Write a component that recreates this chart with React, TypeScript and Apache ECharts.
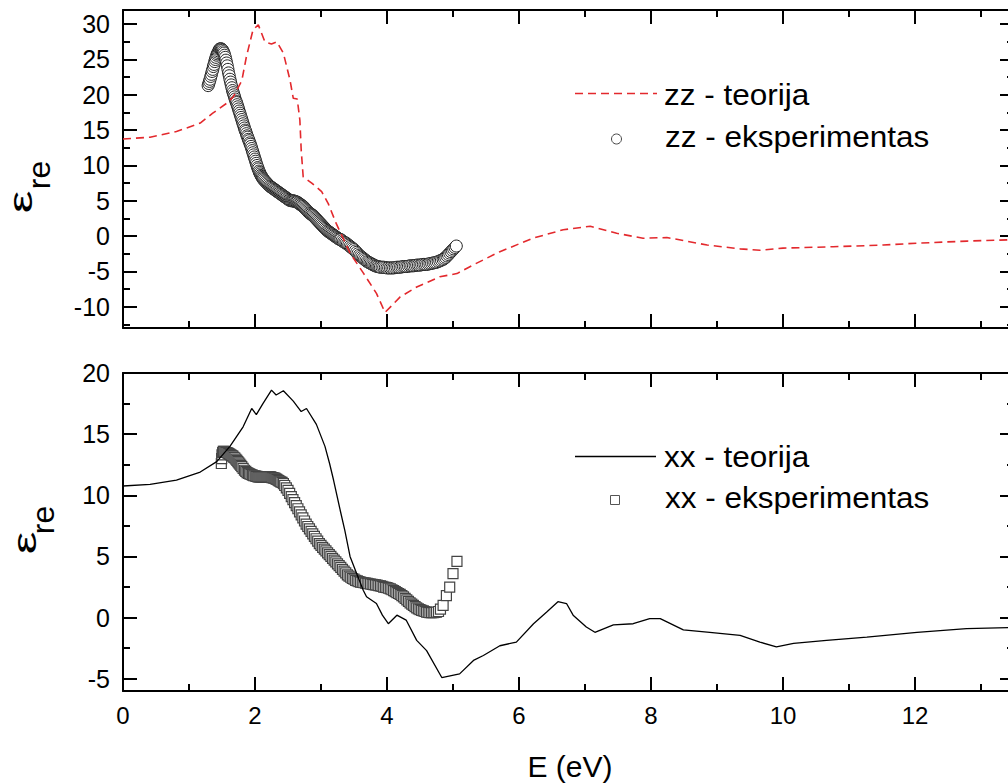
import React, { useEffect, useRef } from "react";
import * as echarts from "echarts";

// ---- data ----
const xTickLabels = [0, 2, 4, 6, 8, 10, 12];
const zzTicks = [-10, -5, 0, 5, 10, 15, 20, 25, 30];
const xxTicks = [-5, 0, 5, 10, 15, 20];

const zzTheory: [number, number][] = [
  [0, 13.75], [0.41, 14.0], [0.81, 14.8], [1.17, 16.0], [1.36, 17.4], [1.57, 18.8],
  [1.67, 19.7], [1.8, 22.0], [1.87, 25.4], [1.97, 29.2], [2.05, 29.9], [2.15, 27.5],
  [2.25, 27.2], [2.33, 27.5], [2.43, 25.9], [2.53, 22.1], [2.58, 19.5], [2.64, 19.4],
  [2.68, 16.4], [2.7, 12.2], [2.73, 8.4], [2.86, 7.5], [3.01, 6.3], [3.11, 4.6],
  [3.23, 1.8], [3.44, -2.4], [3.64, -5.2], [3.84, -8.1], [3.97, -10.8], [4.2, -8.6],
  [4.45, -7.2], [4.8, -5.75], [5.06, -5.3], [5.3, -4.1], [5.71, -2.2], [6.21, -0.3],
  [6.67, 0.9], [7.08, 1.4], [7.48, 0.4], [7.88, -0.3], [8.24, -0.2], [8.39, -0.45],
  [8.85, -1.26], [9.35, -1.8], [9.65, -2.0], [10.0, -1.7], [10.76, -1.5], [11.52, -1.26],
  [12.03, -1.0], [12.79, -0.7], [13.5, -0.5],
];

const zzExperiment: [number, number][] = [
  [1.29, 21.3], [1.3, 21.6], [1.31, 21.9], [1.32, 22.2], [1.33, 22.6], [1.34, 22.9],
  [1.35, 23.3], [1.36, 23.6], [1.37, 24.0], [1.38, 24.3], [1.39, 24.7], [1.4, 25.0],
  [1.41, 25.3], [1.42, 25.6], [1.43, 25.8], [1.44, 26.0], [1.45, 26.2], [1.46, 26.4],
  [1.47, 26.5], [1.48, 26.5], [1.49, 26.5], [1.5, 26.4], [1.51, 26.3], [1.52, 26.1],
  [1.53, 25.9], [1.54, 25.6], [1.55, 25.3], [1.56, 24.9], [1.57, 24.5], [1.58, 24.1],
  [1.59, 23.6], [1.6, 23.1], [1.61, 22.7], [1.62, 22.2], [1.63, 21.8], [1.64, 21.4],
  [1.65, 21.0], [1.66, 20.6], [1.67, 20.3], [1.68, 20.0], [1.69, 19.7], [1.7, 19.4],
  [1.71, 19.1], [1.72, 18.9], [1.73, 18.6], [1.74, 18.3], [1.75, 18.0], [1.76, 17.7],
  [1.77, 17.4], [1.78, 17.1], [1.79, 16.8], [1.8, 16.5], [1.81, 16.2], [1.82, 15.9],
  [1.83, 15.6], [1.84, 15.3], [1.85, 15.0], [1.86, 14.8], [1.87, 14.5], [1.88, 14.2],
  [1.89, 14.0], [1.9, 13.7], [1.91, 13.5], [1.92, 13.2], [1.93, 13.0], [1.94, 12.7],
  [1.95, 12.4], [1.96, 12.1], [1.97, 11.8], [1.98, 11.5], [1.99, 11.2], [2.0, 10.9],
  [2.01, 10.6], [2.02, 10.3], [2.03, 10.0], [2.04, 9.7], [2.05, 9.5], [2.06, 9.2],
  [2.07, 9.0], [2.08, 8.8], [2.09, 8.6], [2.1, 8.45], [2.11, 8.3], [2.12, 8.15],
  [2.13, 8.0], [2.145, 7.85], [2.16, 7.7], [2.175, 7.55], [2.19, 7.4], [2.205, 7.25],
  [2.22, 7.1], [2.235, 7.0], [2.25, 6.9], [2.265, 6.8], [2.28, 6.7], [2.295, 6.6],
  [2.31, 6.5], [2.325, 6.4], [2.34, 6.3], [2.355, 6.2], [2.37, 6.1], [2.385, 6.0],
  [2.4, 5.9], [2.415, 5.8], [2.43, 5.7], [2.445, 5.6], [2.46, 5.5], [2.475, 5.4],
  [2.49, 5.3], [2.505, 5.2], [2.52, 5.1], [2.535, 5.05], [2.55, 5.0], [2.565, 5.0],
  [2.58, 5.0], [2.595, 4.95], [2.61, 4.9], [2.625, 4.85], [2.64, 4.8], [2.655, 4.7],
  [2.67, 4.6], [2.685, 4.5], [2.7, 4.4], [2.715, 4.3], [2.73, 4.2], [2.745, 4.05],
  [2.76, 3.9], [2.775, 3.75], [2.79, 3.6], [2.805, 3.45], [2.82, 3.3], [2.835, 3.2],
  [2.85, 3.1], [2.865, 3.0], [2.88, 2.9], [2.895, 2.75], [2.91, 2.6], [2.925, 2.45],
  [2.94, 2.3], [2.955, 2.15], [2.97, 2.0], [2.985, 1.85], [3.0, 1.7], [3.015, 1.55],
  [3.03, 1.4], [3.045, 1.25], [3.06, 1.1], [3.075, 0.95], [3.09, 0.8], [3.105, 0.7],
  [3.12, 0.6], [3.135, 0.5], [3.15, 0.4], [3.165, 0.3], [3.18, 0.2], [3.195, 0.1],
  [3.21, 0.0], [3.225, -0.1], [3.24, -0.2], [3.255, -0.3], [3.27, -0.4], [3.285, -0.45],
  [3.3, -0.5], [3.32, -0.65], [3.34, -0.8], [3.36, -0.9], [3.38, -1.0], [3.4, -1.15],
  [3.42, -1.3], [3.44, -1.45], [3.46, -1.6], [3.48, -1.75], [3.5, -1.9], [3.52, -2.1],
  [3.54, -2.3], [3.56, -2.5], [3.58, -2.7], [3.6, -2.85], [3.62, -3.0], [3.64, -3.15],
  [3.66, -3.3], [3.68, -3.45], [3.7, -3.6], [3.72, -3.7], [3.74, -3.8], [3.76, -3.9],
  [3.78, -4.0], [3.8, -4.1], [3.82, -4.2], [3.84, -4.25], [3.86, -4.3], [3.88, -4.35],
  [3.9, -4.4], [3.925, -4.4], [3.95, -4.4], [3.975, -4.45], [4.0, -4.5], [4.025, -4.5],
  [4.05, -4.5], [4.075, -4.5], [4.1, -4.5], [4.125, -4.45], [4.15, -4.4], [4.175, -4.4],
  [4.2, -4.4], [4.225, -4.35], [4.25, -4.3], [4.275, -4.3], [4.3, -4.3], [4.325, -4.25],
  [4.35, -4.2], [4.375, -4.2], [4.4, -4.2], [4.425, -4.15], [4.45, -4.1], [4.475, -4.1],
  [4.5, -4.1], [4.525, -4.05], [4.55, -4.0], [4.575, -4.0], [4.6, -4.0], [4.625, -3.95],
  [4.65, -3.9], [4.675, -3.85], [4.7, -3.8], [4.725, -3.75], [4.75, -3.7], [4.775, -3.6],
  [4.8, -3.5], [4.825, -3.4], [4.85, -3.3], [4.87, -3.15], [4.89, -3.0], [4.91, -2.8],
  [4.93, -2.6], [4.95, -2.4], [4.97, -2.2], [4.99, -2.0], [5.01, -1.8], [5.03, -1.6],
  [5.05, -1.4],
];

const xxTheory: [number, number][] = [
  [0, 10.76], [0.41, 10.9], [0.81, 11.25], [1.17, 11.9], [1.42, 12.75], [1.62, 14.0],
  [1.82, 15.6], [1.95, 17.1], [2.02, 16.6], [2.12, 17.5], [2.25, 18.6], [2.32, 18.2],
  [2.43, 18.55], [2.58, 17.7], [2.7, 16.85], [2.78, 17.1], [2.93, 15.8], [3.06, 14.0],
  [3.13, 12.6], [3.19, 11.25], [3.29, 8.8], [3.36, 7.15], [3.44, 5.0], [3.54, 3.6],
  [3.64, 2.24], [3.69, 1.7], [3.84, 1.15], [3.93, 0.2], [4.02, -0.5], [4.15, 0.2],
  [4.29, -0.2], [4.45, -1.86], [4.6, -2.7], [4.83, -4.9], [5.1, -4.6], [5.31, -3.5],
  [5.46, -3.1], [5.71, -2.3], [5.96, -2.0], [6.22, -0.5], [6.42, 0.46], [6.59, 1.3],
  [6.72, 1.15], [6.82, 0.2], [7.02, -0.77], [7.15, -1.2], [7.43, -0.6], [7.73, -0.5],
  [7.98, -0.08], [8.14, -0.08], [8.49, -1.0], [8.89, -1.2], [9.35, -1.45], [9.65, -2.0],
  [9.9, -2.4], [10.16, -2.1], [10.66, -1.86], [11.27, -1.6], [12.03, -1.2], [12.78, -0.9],
  [13.5, -0.8],
];

const xxExperiment: [number, number][] = [
  [1.49, 12.6], [1.495, 13.0], [1.5, 13.3], [1.51, 13.5], [1.52, 13.6], [1.53, 13.6],
  [1.545, 13.55], [1.56, 13.5], [1.575, 13.5], [1.59, 13.45], [1.605, 13.4], [1.62, 13.35],
  [1.635, 13.3], [1.65, 13.25], [1.665, 13.2], [1.68, 13.1], [1.695, 13.05], [1.71, 12.95],
  [1.725, 12.85], [1.74, 12.75], [1.755, 12.65], [1.77, 12.55], [1.785, 12.45], [1.8, 12.35],
  [1.82, 12.2], [1.84, 12.05], [1.86, 11.95], [1.88, 11.85], [1.9, 11.8], [1.92, 11.75],
  [1.94, 11.7], [1.96, 11.65], [1.98, 11.6], [2.0, 11.6], [2.015, 11.55], [2.03, 11.55],
  [2.045, 11.5], [2.06, 11.5], [2.075, 11.5], [2.09, 11.5], [2.105, 11.5], [2.12, 11.5],
  [2.135, 11.5], [2.15, 11.5], [2.165, 11.5], [2.18, 11.5], [2.195, 11.5], [2.21, 11.5],
  [2.225, 11.5], [2.24, 11.5], [2.255, 11.45], [2.27, 11.45], [2.285, 11.4], [2.3, 11.4],
  [2.315, 11.35], [2.33, 11.3], [2.345, 11.25], [2.36, 11.2], [2.375, 11.15], [2.39, 11.1],
  [2.41, 11.05], [2.43, 10.95], [2.45, 10.8], [2.475, 10.6], [2.5, 10.4], [2.525, 10.15],
  [2.55, 9.9], [2.575, 9.65], [2.6, 9.4], [2.625, 9.15], [2.65, 8.9], [2.675, 8.65],
  [2.7, 8.4], [2.725, 8.15], [2.75, 7.9], [2.775, 7.65], [2.8, 7.45], [2.825, 7.25],
  [2.85, 7.05], [2.875, 6.85], [2.9, 6.65], [2.925, 6.45], [2.95, 6.25], [2.975, 6.05],
  [3.0, 5.9], [3.025, 5.75], [3.05, 5.6], [3.075, 5.45], [3.1, 5.3], [3.125, 5.15],
  [3.15, 5.0], [3.175, 4.85], [3.2, 4.7], [3.225, 4.55], [3.25, 4.4], [3.275, 4.25],
  [3.3, 4.1], [3.325, 3.95], [3.35, 3.8], [3.375, 3.65], [3.4, 3.5], [3.425, 3.4],
  [3.45, 3.3], [3.475, 3.2], [3.5, 3.15], [3.525, 3.05], [3.55, 3.0], [3.575, 2.95],
  [3.6, 2.9], [3.625, 2.87], [3.65, 2.85], [3.675, 2.82], [3.7, 2.8], [3.725, 2.77],
  [3.75, 2.75], [3.775, 2.72], [3.8, 2.7], [3.825, 2.67], [3.85, 2.65], [3.875, 2.62],
  [3.9, 2.6], [3.925, 2.55], [3.95, 2.5], [3.975, 2.47], [4.0, 2.45], [4.025, 2.4],
  [4.05, 2.35], [4.075, 2.28], [4.1, 2.2], [4.125, 2.12], [4.15, 2.05], [4.175, 1.97],
  [4.2, 1.9], [4.225, 1.8], [4.25, 1.7], [4.275, 1.58], [4.3, 1.45], [4.325, 1.32],
  [4.35, 1.2], [4.375, 1.1], [4.4, 1.0], [4.425, 0.9], [4.45, 0.8], [4.475, 0.72],
  [4.5, 0.65], [4.525, 0.6], [4.55, 0.55], [4.575, 0.5], [4.6, 0.45], [4.625, 0.42],
  [4.65, 0.4], [4.675, 0.4], [4.7, 0.4], [4.725, 0.42], [4.75, 0.45], [4.78, 0.5],
  [4.81, 0.7], [4.85, 1.0], [4.9, 1.8], [4.95, 2.5], [5.0, 3.6], [5.06, 4.6],
];

const FONT = '"Liberation Sans", Arial, Helvetica, sans-serif';
const RED = "#e3292d";

function isTick(v: number, list: number[]) {
  return list.some((t) => Math.abs(t - v) < 1e-6);
}

function xAxis(gridIndex: number, position: "top" | "bottom", labels: boolean) {
  return {
    type: "value",
    gridIndex,
    position,
    min: 0,
    max: 13.5,
    interval: 2,
    axisLine: { show: true, onZero: false, lineStyle: { color: "#000", width: 2 } },
    axisTick: { show: true, inside: true, length: 14, lineStyle: { color: "#000", width: 2 } },
    minorTick: { show: true, splitNumber: 2, length: 7, lineStyle: { color: "#000", width: 2 } },
    splitLine: { show: false },
    minorSplitLine: { show: false },
    axisLabel: {
      show: labels,
      color: "#000",
      fontSize: 24,
      fontFamily: FONT,
      margin: 12,
      formatter: (v: number) => (isTick(v, xTickLabels) ? String(v) : ""),
    },
  };
}

function yAxis(
  gridIndex: number,
  position: "left" | "right",
  labels: boolean,
  min: number,
  max: number,
  splitNumber: number,
  ticks: number[]
) {
  return {
    type: "value",
    gridIndex,
    position,
    min,
    max,
    splitNumber,
    axisLine: { show: true, onZero: false, lineStyle: { color: "#000", width: 2 } },
    axisTick: { show: true, inside: true, length: 14, lineStyle: { color: "#000", width: 2 } },
    minorTick: { show: true, splitNumber: 2, length: 7, lineStyle: { color: "#000", width: 2 } },
    splitLine: { show: false },
    minorSplitLine: { show: false },
    axisLabel: {
      show: labels,
      color: "#000",
      fontSize: 25,
      fontFamily: FONT,
      margin: 13,
      formatter: (v: number) => (isTick(v, ticks) ? String(v) : ""),
    },
  };
}

function txt(text: string, x: number, y: number, size: number, extra: any = {}) {
  return {
    type: "text",
    x,
    y,
    ...extra,
    style: {
      text,
      font: `${size}px ${FONT}`,
      fill: "#000",
      align: extra.align || "left",
      textAlign: extra.align || "left",
      verticalAlign: "middle",
      textVerticalAlign: "middle",
    },
  };
}

export default function App() {
  const ref = useRef<HTMLDivElement>(null);

  useEffect(() => {
    if (!ref.current) return;
    const chart = echarts.init(ref.current, undefined, { renderer: "svg" });
    const option: any = {
      animation: false,
      backgroundColor: "#fff",
      grid: [
        { left: 123, top: 10, width: 891, height: 318 },
        { left: 123, top: 373, width: 891, height: 318 },
      ],
      xAxis: [
        xAxis(0, "bottom", false),
        xAxis(0, "top", false),
        xAxis(1, "bottom", true),
        xAxis(1, "top", false),
      ],
      yAxis: [
        yAxis(0, "left", true, -13, 32, 9, zzTicks),
        yAxis(0, "right", false, -13, 32, 9, zzTicks),
        yAxis(1, "left", true, -6, 20, 5, xxTicks),
        yAxis(1, "right", false, -6, 20, 5, xxTicks),
      ],
      series: [
        {
          name: "zz - eksperimentas",
          type: "scatter",
          xAxisIndex: 0,
          yAxisIndex: 0,
          data: zzExperiment,
          symbol: "circle",
          symbolSize: 12,
          z: 2,
          itemStyle: { color: "#fff", borderColor: "#222", borderWidth: 1, opacity: 1 },
        },
        {
          name: "zz - teorija",
          type: "line",
          xAxisIndex: 0,
          yAxisIndex: 0,
          data: zzTheory,
          showSymbol: false,
          symbol: "none",
          z: 3,
          lineStyle: { color: RED, width: 1.6, type: [8, 5] },
        },
        {
          name: "xx - eksperimentas",
          type: "scatter",
          xAxisIndex: 2,
          yAxisIndex: 2,
          data: xxExperiment,
          symbol: "rect",
          symbolSize: 10,
          z: 2,
          itemStyle: { color: "#fff", borderColor: "#444", borderWidth: 1.2, opacity: 1 },
        },
        {
          name: "xx - teorija",
          type: "line",
          xAxisIndex: 2,
          yAxisIndex: 2,
          data: xxTheory,
          showSymbol: false,
          symbol: "none",
          z: 3,
          lineStyle: { color: "#000", width: 1.3 },
        },
      ],
      graphic: [
        // top legend
        {
          type: "line",
          shape: { x1: 575, y1: 93.5, x2: 657, y2: 93.5 },
          style: { stroke: RED, lineWidth: 1.6, lineDash: [8, 5] },
        },
        txt("zz - teorija", 664, 94.5, 30, { scaleX: 1.05 }),
        {
          type: "circle",
          shape: { cx: 616.5, cy: 139, r: 5 },
          style: { fill: "#fff", stroke: "#444", lineWidth: 1 },
        },
        txt("zz - eksperimentas", 665, 136.5, 30, { scaleX: 1.05 }),
        // bottom legend
        {
          type: "line",
          shape: { x1: 575, y1: 456.5, x2: 656, y2: 456.5 },
          style: { stroke: "#000", lineWidth: 1.3 },
        },
        txt("xx - teorija", 664, 456.5, 30, { scaleX: 1.05 }),
        {
          type: "rect",
          shape: { x: 610.5, y: 495.5, width: 9, height: 9 },
          style: { fill: "#fff", stroke: "#555", lineWidth: 1 },
        },
        txt("xx - eksperimentas", 665, 497.5, 30, { scaleX: 1.05 }),
        // axis titles
        txt("E (eV)", 570, 766.5, 30, { align: "center" }),
        txt("ε", 20, 202, 34, { align: "center", rotation: Math.PI / 2, scaleX: 1.5 }),
        txt("re", 38.5, 175, 32, { align: "center", rotation: Math.PI / 2 }),
        txt("ε", 24, 543, 34, { align: "center", rotation: Math.PI / 2, scaleX: 1.5 }),
        txt("re", 43, 520, 32, { align: "center", rotation: Math.PI / 2 }),
      ],
    };
    chart.setOption(option);
    return () => chart.dispose();
  }, []);

  return (
    <div
      style={{
        position: "absolute",
        left: 0,
        top: 0,
        width: 1008,
        height: 784,
        overflow: "hidden",
        background: "#fff",
      }}
    >
      <div ref={ref} style={{ width: 1030, height: 784 }} />
    </div>
  );
}
